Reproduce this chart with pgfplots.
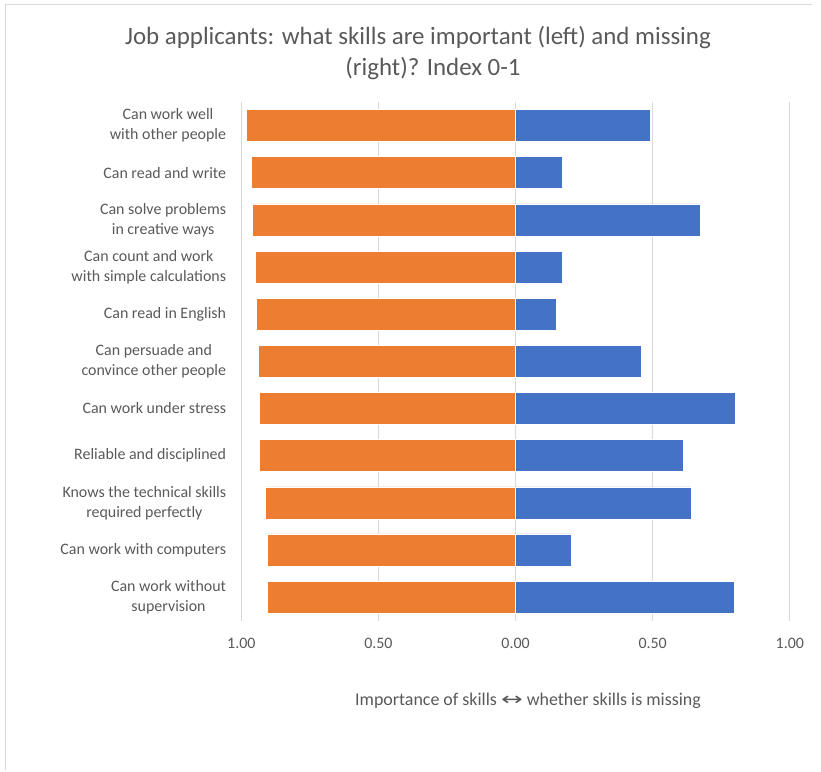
\documentclass[border=0pt]{standalone}
\usepackage{fontspec}
\setmainfont{Carlito}
\newfontfamily\symfont{DejaVu Sans}
\usepackage{graphicx}
\usepackage{pgfplots}
\pgfplotsset{compat=1.18}
\definecolor{cOrange}{HTML}{ED7D31}
\definecolor{cBlue}{HTML}{4472C4}
\definecolor{cText}{HTML}{595959}
\definecolor{cGrid}{HTML}{D9D9D9}
\begin{document}
\begin{tikzpicture}[x=1bp,y=1bp]
\path (0,0) rectangle (821,772);
\draw[cGrid, line width=1bp] (5,2) -- (5,767) -- (812,767);
\begin{axis}[
  at={(241.3bp,151.3bp)}, anchor=south west,
  scale only axis, width=548.5bp, height=518.7bp,
  xmin=-1, xmax=1, ymin=-0.5, ymax=10.5,
  y dir=reverse,
  axis line style={draw=none},
  major tick length=0pt,
  xtick={-1,-0.5,0,0.5,1},
  xticklabels={1.00,0.50,0.00,0.50,1.00},
  ytick={0,...,10},
  yticklabels={{Can work well\\with other people},{Can read and write},{Can solve problems\\in creative ways},{Can count and work\\with simple calculations},{Can read in English},{Can persuade and\\convince other people},{Can work under stress},{Reliable and disciplined},{Knows the technical skills\\required perfectly},{Can work with computers},{Can work without\\supervision}},
  y tick label style={align=center, font=\fontsize{16}{20}\selectfont, text=cText, inner xsep=0pt, xshift=-15bp},
  x tick label style={font=\fontsize{16}{19}\selectfont, text=cText, anchor=center, yshift=-22.3bp},
  xmajorgrids, grid style={cGrid, line width=1bp},
  xlabel={Importance of skills {\symfont\scalebox{1.45}[1]{↔}} whether skills is missing},
  xlabel style={font=\fontsize{18}{21}\selectfont, text=cText, at={(axis description cs:0.5227,0)}, anchor=center, yshift=-80.3bp},
  title={Job applicants: what skills are important (left) and missing\\\hspace*{30bp}(right)? Index 0-1},
  title style={font=\fontsize{25}{31}\selectfont, text=cText, align=center, at={(axis description cs:0.3222,1.1)}, anchor=center, yshift=-8.5bp},
  xbar, bar width=32bp, bar shift=0pt,
  clip=false,
]
\addplot[fill=cOrange, draw=white, line width=0.6bp] coordinates {
(-0.980,0) (-0.964,1) (-0.960,2) (-0.949,3) (-0.945,4) (-0.939,5) (-0.935,6) (-0.935,7) (-0.911,8) (-0.904,9) (-0.904,10)};
\addplot[fill=cBlue, draw=white, line width=0.6bp] coordinates {
(0.490,0) (0.170,1) (0.672,2) (0.170,3) (0.150,4) (0.459,5) (0.802,6) (0.611,7) (0.639,8) (0.202,9) (0.799,10)};
\end{axis}
\end{tikzpicture}
\end{document}
